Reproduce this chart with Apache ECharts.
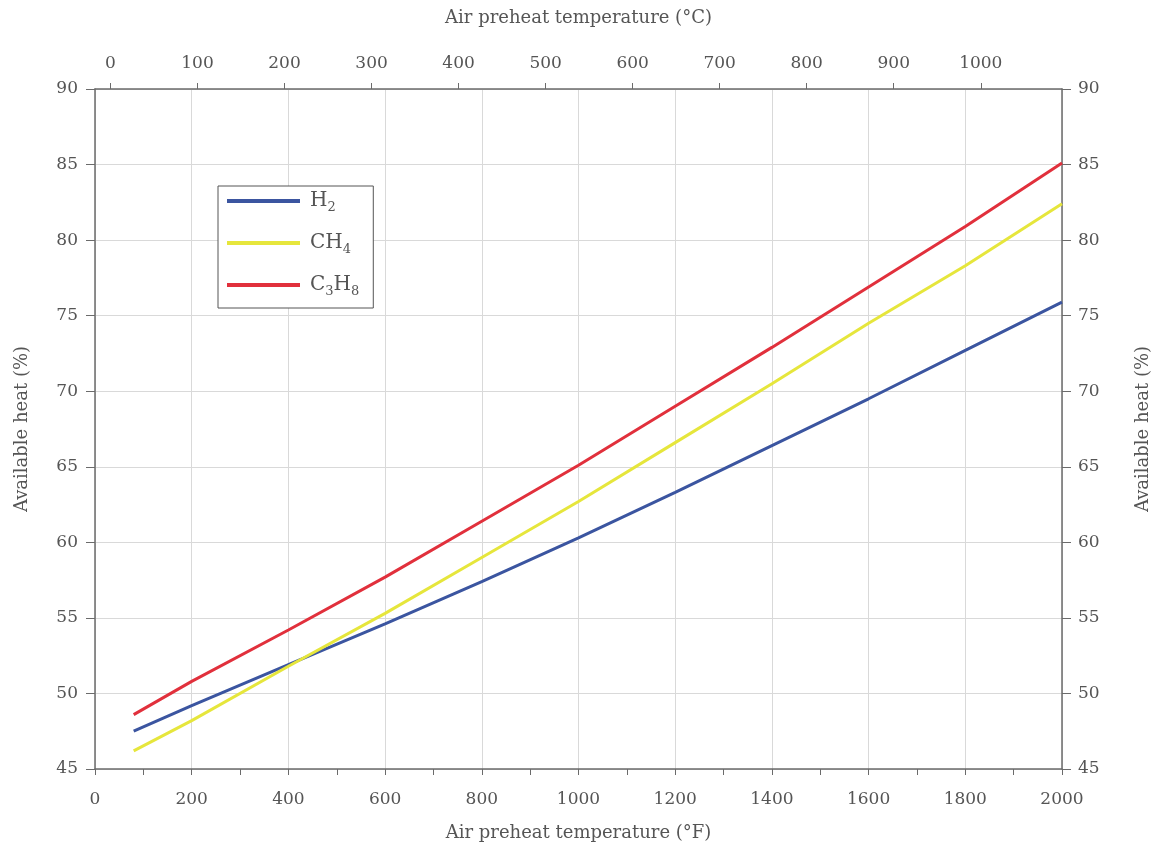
<!DOCTYPE html>
<html>
<head>
<meta charset="utf-8">
<script src="https://cdn.jsdelivr.net/npm/echarts@6/dist/echarts.min.js"></script>
<style>
html,body{margin:0;padding:0;background:#fff;}
#chart{width:1160px;height:848px;}
</style>
</head>
<body>
<div id="chart"></div>
<script>
// Data
var tempF = [80, 200, 400, 600, 800, 1000, 1200, 1400, 1600, 1800, 2000];
var h2   = [47.5, 49.2, 51.9, 54.6, 57.4, 60.3, 63.3, 66.4, 69.5, 72.7, 75.9];
var ch4  = [46.2, 48.2, 51.8, 55.3, 59.0, 62.7, 66.6, 70.5, 74.5, 78.3, 82.4];
var c3h8 = [48.6, 50.8, 54.2, 57.7, 61.4, 65.1, 69.0, 72.9, 76.9, 80.9, 85.1];
var celsiusTicks = [0, 100, 200, 300, 400, 500, 600, 700, 800, 900, 1000];
var seriesNames = ['H2', 'CH4', 'C3H8'];
var legendLabels = {
  'H2': '{n|H}{s|2}',
  'CH4': '{n|CH}{s|4}',
  'C3H8': '{n|C}{s|3}{n|H}{s|8}'
};

function pairs(xs, ys) { return xs.map(function (x, i) { return [x, ys[i]]; }); }
function plain(v) { return String(Math.round(v)); }

var FONT = 'DejaVu Serif';
var axisCol = '#6b6b6b';
var textCol = '#555';

var chart = echarts.init(document.getElementById('chart'), null, {renderer: 'canvas'});
var fMin = 0, fMax = 2000;
chart.setOption({
  animation: false,
  backgroundColor: '#fff',
  textStyle: {fontFamily: FONT},
  grid: {left: 95, right: 98, top: 89, bottom: 79, containLabel: false},
  legend: {
    orient: 'vertical',
    left: 218, top: 186,
    icon: 'rect',
    itemWidth: 73, itemHeight: 4,
    itemGap: 19,
    padding: [5, 14, 10, 9],
    borderColor: '#555', borderWidth: 1,
    backgroundColor: '#fff',
    data: seriesNames,
    formatter: function (n) { return legendLabels[n]; },
    textStyle: {
      color: textCol, fontFamily: FONT, padding: [0, 0, 0, 5],
      rich: {
        n: {fontSize: 20, fontFamily: FONT, color: textCol, lineHeight: 26, verticalAlign: 'middle'},
        s: {fontSize: 13, fontFamily: FONT, color: textCol, lineHeight: 13, verticalAlign: 'bottom'}
      }
    }
  },
  xAxis: [{
    type: 'value', position: 'bottom', min: fMin, max: fMax, interval: 200,
    name: 'Air preheat temperature (°F)', nameLocation: 'middle', nameGap: 55,
    nameTextStyle: {fontSize: 18, color: textCol, fontFamily: FONT},
    axisLine: {show: true, onZero: false, lineStyle: {color: axisCol, width: 1.5}},
    axisTick: {show: true, inside: false, length: 6, lineStyle: {color: axisCol}},
    minorTick: {show: true, splitNumber: 2, length: 6, lineStyle: {color: axisCol}},
    axisLabel: {fontSize: 17, color: textCol, margin: 22, fontFamily: FONT, formatter: plain},
    splitLine: {show: true, lineStyle: {color: '#d9d9d9', width: 1}}
  }, {
    type: 'value', position: 'top',
    min: (fMin - 32) / 1.8, max: (fMax - 32) / 1.8,
    name: 'Air preheat temperature (°C)', nameLocation: 'middle', nameGap: 62,
    nameTextStyle: {fontSize: 18, color: textCol, fontFamily: FONT},
    axisLine: {show: true, onZero: false, lineStyle: {color: axisCol, width: 1.5}},
    axisTick: {show: true, length: 6, customValues: celsiusTicks, lineStyle: {color: axisCol}},
    axisLabel: {fontSize: 17, color: textCol, margin: 17, fontFamily: FONT, customValues: celsiusTicks, formatter: plain},
    splitLine: {show: false}
  }],
  yAxis: [{
    type: 'value', position: 'left', min: 45, max: 90, interval: 5,
    name: 'Available heat (%)', nameLocation: 'middle', nameGap: 64,
    nameTextStyle: {fontSize: 18, color: textCol, fontFamily: FONT},
    axisLine: {show: true, onZero: false, lineStyle: {color: axisCol, width: 1.5}},
    axisTick: {show: true, length: 9, lineStyle: {color: axisCol}},
    axisLabel: {fontSize: 17, color: textCol, margin: 17, fontFamily: FONT},
    splitLine: {show: true, lineStyle: {color: '#d9d9d9', width: 1}}
  }, {
    type: 'value', position: 'right', min: 45, max: 90, interval: 5,
    name: 'Available heat (%)', nameLocation: 'middle', nameGap: 72,
    nameTextStyle: {fontSize: 18, color: textCol, fontFamily: FONT},
    axisLine: {show: true, onZero: false, lineStyle: {color: axisCol, width: 1.5}},
    axisTick: {show: true, length: 9, lineStyle: {color: axisCol}},
    axisLabel: {fontSize: 17, color: textCol, margin: 16, fontFamily: FONT},
    splitLine: {show: false}
  }],
  series: [{
    name: 'H2', type: 'line', xAxisIndex: 0, yAxisIndex: 0, showSymbol: false, symbol: 'none',
    data: pairs(tempF, h2), lineStyle: {color: '#3b55a0', width: 3}, itemStyle: {color: '#3b55a0'}
  }, {
    name: 'CH4', type: 'line', xAxisIndex: 0, yAxisIndex: 0, showSymbol: false, symbol: 'none',
    data: pairs(tempF, ch4), lineStyle: {color: '#e6e63c', width: 3}, itemStyle: {color: '#e6e63c'}
  }, {
    name: 'C3H8', type: 'line', xAxisIndex: 0, yAxisIndex: 0, showSymbol: false, symbol: 'none',
    data: pairs(tempF, c3h8), lineStyle: {color: '#e1303c', width: 3}, itemStyle: {color: '#e1303c'}
  }]
});
</script>
</body>
</html>
